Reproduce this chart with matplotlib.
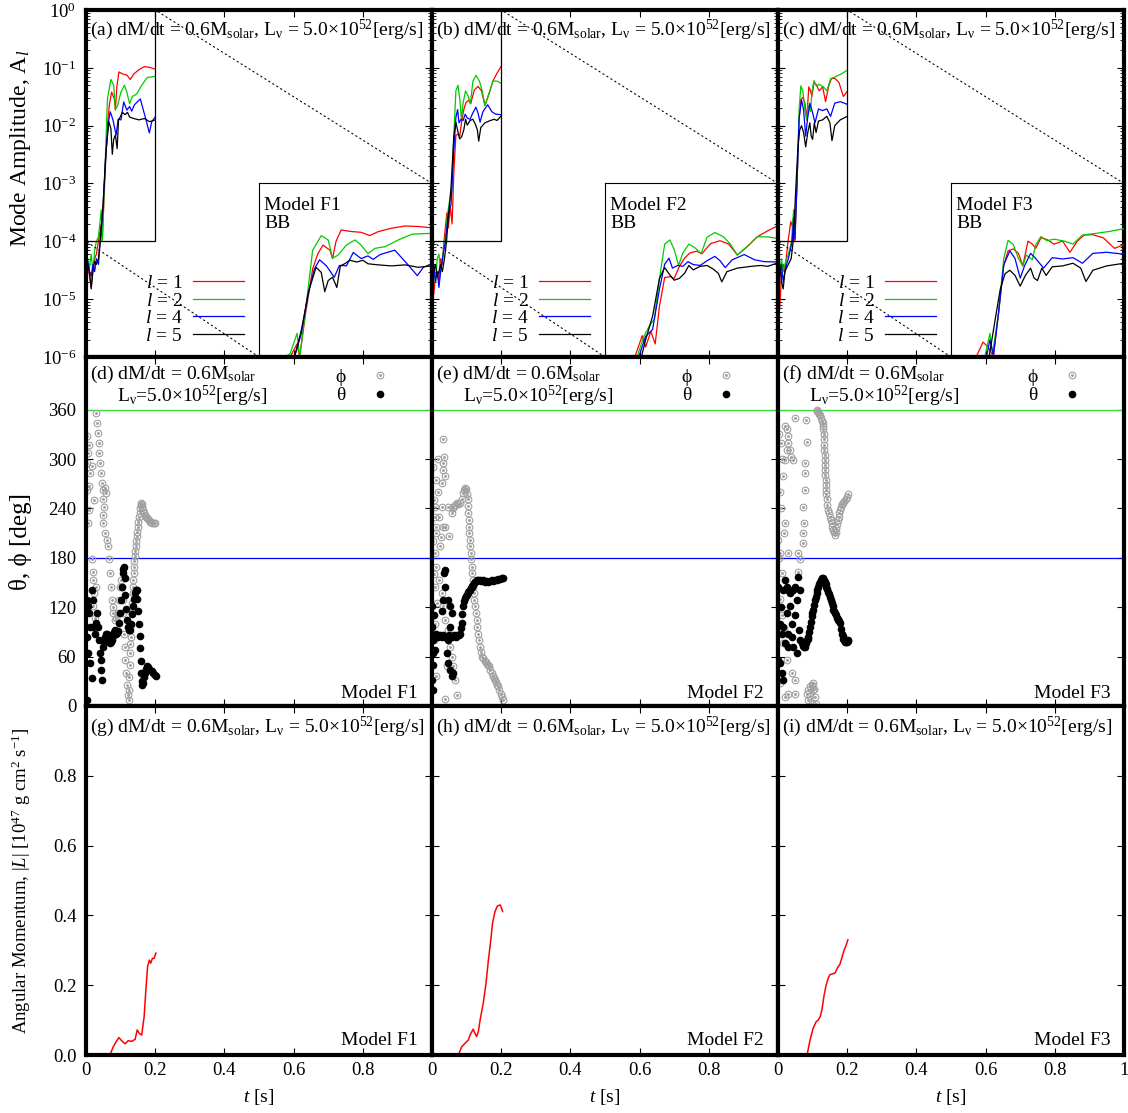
import matplotlib
matplotlib.use("Agg")
import matplotlib.pyplot as plt

# ---- mode amplitudes A_l (top row) ----
F1_t_l1 = [0, .005, .01, .015, .02, .025, .03, .036, .044, .047, .054, .062, .068, .074, .082, .085, .089, .095, .107, .118, .128, .138, .153, .169, .184, .2]
F1_l1 = [3e-5, 4e-5, 2.5e-5, 1.6e-5, 3.5e-5, 5e-5, 6e-5, 1e-4, 2e-4, 1e-4, 1.05e-3, 1.07e-2, 2.4e-2, 3.8e-2, 2.9e-2, 1.86e-2, 4.6e-2, 8.5e-2, 7.8e-2, 7.5e-2, 6.3e-2, 7.8e-2, 9.3e-2, 1.05e-1, 1.02e-1, 9.5e-2]
F1_t_l2 = [0, .005, .01, .015, .02, .025, .03, .036, .044, .047, .054, .062, .072, .080, .085, .091, .101, .111, .118, .126, .134, .146, .161, .177, .2]
F1_l2 = [4e-5, 5e-5, 3.5e-5, 6e-5, 3e-5, 7e-5, 1e-4, 1.2e-4, 3.5e-4, 1e-4, 1.26e-3, 2.9e-2, 6.3e-2, 5e-2, 1.9e-2, 2.2e-2, 3.8e-2, 5e-2, 3.8e-2, 2.4e-2, 3.2e-2, 3.5e-2, 5e-2, 6.8e-2, 7.1e-2]
F1_t_l4 = [0, .005, .01, .015, .02, .025, .03, .036, .041, .049, .056, .064, .070, .078, .087, .093, .101, .109, .118, .126, .132, .140, .157, .173, .183, .19, .2]
F1_l4 = [3.5e-5, 4.5e-5, 3e-5, 2.5e-5, 4e-5, 3e-5, 5e-5, 4e-5, 1e-4, 3.5e-4, 2.5e-3, 1.07e-2, 1.74e-2, 1.26e-2, 6.9e-3, 1.29e-2, 1.26e-2, 2.57e-2, 1.86e-2, 2.14e-2, 1.78e-2, 2.3e-2, 2.9e-2, 1.29e-2, 7.5e-3, 1.17e-2, 1.41e-2]
F1_t_l5 = [0, .005, .01, .015, .02, .025, .03, .036, .041, .049, .058, .066, .072, .076, .080, .085, .090, .094, .099, .105, .113, .120, .126, .138, .153, .169, .184, .2]
F1_l5 = [2.5e-5, 4e-5, 3e-5, 1.5e-5, 3e-5, 4.5e-5, 4e-5, 5e-5, 1e-4, 4.2e-4, 3.6e-3, 1.17e-2, 8.9e-3, 3.2e-3, 5.8e-3, 6.9e-3, 4e-3, 1.26e-2, 1.41e-2, 1.7e-2, 1.55e-2, 1.7e-2, 1.41e-2, 1.33e-2, 1.26e-2, 1.33e-2, 1.17e-2, 1.26e-2]

F2_t_l1 = [0, .005, .01, .015, .02, .025, .03, .0345, .043, .047, .053, .058, .063, .069, .075, .080, .086, .092, .098, .106, .112, .122, .133, .143, .153, .165, .176, .188, .2]
F2_l1 = [3e-5, 1.2e-5, 2.5e-5, 3e-5, 2e-5, 5e-5, 4e-5, 1e-4, 3.1e-4, 1.7e-4, 3.9e-4, 2e-4, 1.5e-3, 6.8e-3, 7.1e-3, 6.5e-3, 1.23e-2, 1.9e-2, 2.5e-2, 2.75e-2, 2.4e-2, 4.1e-2, 4.8e-2, 4e-2, 2.24e-2, 3.6e-2, 5.9e-2, 8.1e-2, 1.07e-1]
F2_t_l2 = [0, .005, .01, .015, .02, .025, .03, .037, .045, .051, .057, .063, .069, .075, .080, .085, .090, .097, .104, .111, .118, .127, .137, .145, .153, .165, .176, .188, .2]
F2_l2 = [4e-5, 3e-5, 2e-5, 5e-5, 6e-5, 3e-5, 5e-5, 1e-4, 3e-4, 5.1e-4, 7.4e-4, 6.5e-3, 4e-2, 5e-2, 3e-2, 1.29e-2, 2.5e-2, 4e-2, 3.3e-2, 2.4e-2, 5.8e-2, 7.4e-2, 5.9e-2, 4e-2, 2.24e-2, 3.6e-2, 5.9e-2, 5.9e-2, 5.4e-2]
F2_t_l4 = [0, .005, .01, .015, .02, .025, .03, .039, .047, .055, .063, .069, .074, .078, .084, .090, .096, .102, .110, .118, .127, .133, .139, .147, .161, .173, .184, .2]
F2_l4 = [3e-5, 4e-5, 2e-5, 3e-5, 1.6e-5, 3e-5, 5e-5, 1e-4, 3e-4, 4.3e-4, 3.7e-3, 1.38e-2, 1.9e-2, 1.12e-2, 1.29e-2, 1.23e-2, 1.58e-2, 1.35e-2, 1.29e-2, 1.66e-2, 2.09e-2, 1.66e-2, 1.15e-2, 1.74e-2, 2.3e-2, 1.74e-2, 1.58e-2, 1.55e-2]
F2_t_l5 = [0, .005, .01, .015, .02, .025, .03, .036, .042, .047, .055, .063, .069, .075, .080, .086, .092, .097, .102, .110, .118, .125, .131, .135, .141, .153, .169, .180, .188, .2]
F2_l5 = [4e-5, 3e-5, 4e-5, 2.5e-5, 3e-5, 4e-5, 3e-5, 5e-5, 1e-4, 2.5e-4, 8.7e-4, 6.5e-3, 1.15e-2, 7.8e-3, 5.9e-3, 6.5e-3, 8.5e-3, 1.29e-2, 1.02e-2, 1.23e-2, 1.29e-2, 1.07e-2, 8.5e-3, 5.4e-3, 9.3e-3, 1.12e-2, 1.23e-2, 1.29e-2, 1.23e-2, 1.48e-2]

F3_t_l1 = [0, .005, .01, .015, .02, .025, .029, .037, .043, .049, .055, .061, .066, .072, .078, .083, .089, .094, .098, .104, .111, .119, .129, .1375, .146, .154, .164, .176, .189, .2]
F3_l1 = [3e-5, 7e-6, 2.5e-5, 4e-5, 3e-5, 6e-5, 1e-4, 2.2e-4, 1.7e-4, 1e-4, 1.05e-3, 1.32e-2, 2.8e-2, 3.1e-2, 2.45e-2, 1.26e-2, 4.7e-2, 4e-2, 3.2e-2, 5.6e-2, 5.1e-2, 4e-2, 4.7e-2, 2.6e-2, 4.7e-2, 6.5e-2, 6.6e-2, 5.6e-2, 3.2e-2, 3.9e-2]
F3_t_l2 = [0, .005, .01, .015, .02, .025, .03, .039, .045, .048, .055, .061, .066, .072, .078, .083, .087, .094, .098, .104, .111, .119, .131, .141, .152, .168, .184, .2]
F3_l2 = [4e-5, 3e-5, 5e-5, 3e-5, 4e-5, 5e-5, 6e-5, 1e-4, 3.5e-4, 1.2e-4, 1.05e-3, 1.86e-2, 4.9e-2, 3.9e-2, 1.86e-2, 1.26e-2, 2.24e-2, 1.74e-2, 3.9e-2, 6e-2, 4.8e-2, 5.2e-2, 4.7e-2, 4e-2, 6.5e-2, 7.1e-2, 7.9e-2, 9.1e-2]
F3_t_l4 = [0, .005, .01, .015, .02, .025, .03, .041, .045, .049, .055, .061, .068, .074, .080, .085, .092, .098, .107, .117, .129, .141, .152, .164, .180, .2]
F3_l4 = [3e-5, 2.5e-5, 4e-5, 2e-5, 3e-5, 4e-5, 5e-5, 1e-4, 2.5e-4, 1.1e-4, 1.05e-3, 1.32e-2, 2.8e-2, 1.86e-2, 6.6e-3, 1.26e-2, 2.45e-2, 1.86e-2, 1.12e-2, 1.95e-2, 1.82e-2, 1.95e-2, 1.45e-2, 2.45e-2, 2.6e-2, 2.34e-2]
F3_t_l5 = [0, .005, .01, .015, .02, .025, .03, .038, .044, .051, .057, .0625, .068, .074, .080, .086, .092, .096, .100, .105, .110, .117, .129, .141, .150, .156, .164, .180, .2]
F3_l5 = [2.5e-5, 4e-5, 2e-5, 1.5e-5, 3e-5, 3.5e-5, 4e-5, 5e-5, 1e-4, 7.2e-4, 3.7e-3, 8.3e-3, 1e-2, 7.6e-3, 4.3e-3, 7.6e-3, 1.12e-2, 6.6e-3, 5.8e-3, 1.12e-2, 7.6e-3, 1.2e-2, 1.26e-2, 1.45e-2, 1.12e-2, 5.5e-3, 1e-2, 1.26e-2, 1.45e-2]

# ---- spiral axis direction (middle row), (t [s], angle [deg]) ----
F1_phi = [(0.002, 295), (0.004, 328), (0.007, 307), (0.010, 317), (0.012, 283), (0.002, 263), (0.010, 238), (0.007, 222),
          (0.016, 178), (0.019, 163), (0.021, 153), (0.023, 137), (0.021, 121), (0.026, 107), (0.029, 145), (0.010, 267),
          (0.016, 291), (0.023, 250), (0.029, 356), (0.033, 344), (0.036, 332), (0.038, 319), (0.039, 307), (0.040, 295),
          (0.042, 283), (0.045, 271), (0.050, 263), (0.055, 265), (0.058, 259), (0.048, 251), (0.052, 242), (0.050, 232),
          (0.048, 222), (0.055, 210), (0.060, 202), (0.064, 194), (0.067, 178), (0.069, 161), (0.071, 145), (0.074, 129),
          (0.077, 120), (0.079, 113), (0.084, 105), (0.088, 107), (0.093, 113), (0.096, 129), (0.098, 145), (0.100, 153),
          (0.103, 145), (0.106, 129), (0.108, 113), (0.110, 88), (0.113, 72), (0.114, 56), (0.117, 40), (0.119, 26),
          (0.121, 13), (0.123, 7), (0.124, 20), (0.125, 35), (0.126, 50), (0.127, 64), (0.128, 75), (0.129, 84),
          (0.130, 98), (0.132, 113), (0.133, 125), (0.135, 137), (0.136, 145), (0.137, 153), (0.138, 161), (0.139, 169),
          (0.140, 176), (0.141, 182), (0.143, 188), (0.144, 194), (0.145, 200), (0.146, 206), (0.148, 212), (0.149, 218),
          (0.151, 224), (0.153, 230), (0.155, 235), (0.156, 240), (0.158, 244), (0.159, 247), (0.161, 245), (0.163, 242),
          (0.165, 238), (0.167, 234), (0.170, 232), (0.172, 230), (0.175, 228), (0.178, 227), (0.181, 226), (0.185, 224),
          (0.188, 223), (0.192, 222), (0.196, 222), (0.200, 222)]
F1_theta = [(0.002, 7), (0.004, 129), (0.007, 121), (0.010, 113), (0.012, 96), (0.004, 84), (0.016, 141), (0.019, 129),
            (0.021, 96), (0.026, 88), (0.012, 52), (0.016, 34), (0.007, 64), (0.029, 101), (0.033, 113), (0.036, 96),
            (0.038, 80), (0.040, 64), (0.042, 44), (0.045, 32), (0.042, 56), (0.050, 72), (0.052, 78), (0.055, 84),
            (0.058, 87), (0.060, 88), (0.062, 86), (0.064, 82), (0.067, 78), (0.069, 76), (0.072, 78), (0.074, 80),
            (0.077, 85), (0.079, 88), (0.082, 90), (0.084, 92), (0.086, 90), (0.088, 88), (0.091, 89), (0.093, 91),
            (0.096, 101), (0.098, 113), (0.100, 129), (0.103, 145), (0.106, 161), (0.108, 167), (0.110, 169), (0.112, 155),
            (0.114, 135), (0.116, 118), (0.118, 105), (0.121, 96), (0.124, 92), (0.127, 92), (0.130, 100), (0.133, 112),
            (0.136, 122), (0.139, 130), (0.142, 137), (0.144, 141), (0.146, 141), (0.148, 130), (0.151, 116), (0.153, 100),
            (0.155, 85), (0.157, 70), (0.158, 55), (0.160, 40), (0.161, 30), (0.163, 25), (0.165, 28), (0.167, 35),
            (0.170, 40), (0.173, 45), (0.175, 48), (0.180, 47), (0.185, 44), (0.190, 42), (0.194, 40), (0.198, 38),
            (0.202, 36)]

F2_phi = [(0.033, 324), (0.035, 303), (0.033, 295), (0.031, 287), (0.038, 279), (0.028, 271), (0.012, 275), (0.009, 242),
          (0.009, 230), (0.013, 218), (0.012, 210), (0.009, 186), (0.028, 242), (0.031, 218), (0.038, 218), (0.047, 242),
          (0.050, 206), (0.057, 234), (0.023, 194), (0.013, 169), (0.021, 153), (0.028, 137), (0.033, 121), (0.038, 105),
          (0.047, 92), (0.052, 72), (0.057, 60), (0.062, 48), (0.067, 32), (0.038, 9), (0.071, 13), (0.009, 145),
          (0.013, 36), (0.042, 48), (0.003, 290), (0.005, 250), (0.004, 200), (0.006, 160), (0.003, 110), (0.005, 80),
          (0.008, 100), (0.016, 300), (0.018, 260), (0.020, 230), (0.025, 205), (0.015, 125),
          (0.060, 240), (0.062, 242), (0.066, 244), (0.071, 247), (0.076, 246), (0.081, 247), (0.086, 252), (0.090, 259),
          (0.093, 263), (0.095, 265), (0.098, 264), (0.100, 258), (0.103, 251), (0.104, 243), (0.105, 234), (0.106, 226),
          (0.107, 218), (0.108, 210), (0.110, 202), (0.111, 194), (0.112, 186), (0.113, 178), (0.115, 169), (0.116, 161),
          (0.118, 153), (0.119, 145), (0.121, 137), (0.122, 129), (0.124, 121), (0.126, 113), (0.129, 105), (0.131, 96),
          (0.134, 88), (0.136, 80), (0.139, 72), (0.142, 66), (0.145, 60), (0.148, 58), (0.152, 55), (0.156, 53),
          (0.160, 51), (0.163, 50), (0.166, 48), (0.169, 44), (0.172, 40), (0.176, 37), (0.179, 34), (0.182, 32),
          (0.186, 29), (0.189, 26), (0.192, 24), (0.195, 20), (0.198, 15), (0.201, 11), (0.204, 7)]
F2_theta = [(0.000, 121), (0.000, 96), (0.002, 80), (0.002, 64), (0.000, 32), (0.002, 20), (0.009, 68), (0.006, 110),
            (0.004, 50), (0.033, 129), (0.035, 161), (0.038, 145), (0.038, 165), (0.047, 129), (0.052, 121), (0.057, 113),
            (0.052, 96), (0.047, 80), (0.042, 64), (0.047, 52), (0.052, 44), (0.057, 36), (0.062, 40), (0.028, 116),
            (0.013, 88), (0.018, 84), (0.023, 86), (0.028, 84), (0.033, 86), (0.038, 84), (0.043, 84), (0.048, 86),
            (0.053, 84), (0.058, 84), (0.063, 86), (0.068, 84), (0.073, 86), (0.078, 86), (0.081, 88), (0.083, 95),
            (0.086, 101), (0.088, 112), (0.091, 121), (0.093, 127), (0.095, 131), (0.098, 134), (0.100, 135), (0.103, 137),
            (0.105, 138), (0.108, 140), (0.110, 141), (0.113, 143), (0.115, 144), (0.117, 146), (0.119, 147), (0.122, 149),
            (0.124, 151), (0.127, 152), (0.130, 153), (0.134, 153), (0.139, 153), (0.143, 152), (0.148, 153), (0.152, 151),
            (0.157, 152), (0.162, 151), (0.167, 152), (0.172, 153), (0.177, 152), (0.182, 153), (0.187, 153), (0.192, 154),
            (0.197, 154), (0.202, 155), (0.206, 155)]

F3_phi = [(0.001, 202), (0.006, 186), (0.011, 161), (0.020, 340), (0.025, 336), (0.028, 328), (0.030, 319), (0.035, 311),
          (0.039, 303), (0.044, 299), (0.020, 299), (0.025, 311), (0.049, 350), (0.082, 348), (0.083, 321), (0.078, 295),
          (0.078, 283), (0.078, 263), (0.073, 242), (0.076, 222), (0.073, 210), (0.073, 198), (0.059, 186), (0.064, 178),
          (0.059, 163), (0.020, 222), (0.030, 186), (0.015, 76), (0.025, 56), (0.040, 40), (0.049, 32), (0.030, 15),
          (0.049, 15), (0.006, 28), (0.020, 11), (0.003, 330), (0.008, 320), (0.012, 300), (0.015, 280), (0.005, 260),
          (0.010, 240), (0.016, 210), (0.003, 180), (0.006, 130), (0.012, 110), (0.018, 95), (0.022, 75),
          (0.083, 15), (0.088, 19), (0.092, 24), (0.097, 26), (0.102, 28), (0.105, 21), (0.107, 11), (0.110, 3),
          (0.088, 7), (0.097, 3), (0.093, 12), (0.100, 20),
          (0.112, 360), (0.114, 359), (0.117, 357), (0.119, 355), (0.121, 354), (0.124, 350), (0.126, 346), (0.129, 344),
          (0.130, 340), (0.131, 336), (0.132, 330), (0.133, 324), (0.134, 317), (0.134, 311), (0.135, 305), (0.136, 299),
          (0.136, 293), (0.136, 287), (0.137, 281), (0.138, 275), (0.138, 269), (0.138, 263), (0.140, 257), (0.141, 251),
          (0.143, 244), (0.145, 238), (0.148, 234), (0.150, 230), (0.152, 226), (0.155, 222), (0.157, 218), (0.160, 214),
          (0.162, 211), (0.165, 208), (0.167, 212), (0.168, 216), (0.170, 221), (0.173, 226), (0.175, 230), (0.176, 234),
          (0.179, 238), (0.182, 242), (0.185, 245), (0.189, 247), (0.192, 249), (0.196, 251), (0.199, 254), (0.203, 257)]
F3_theta = [(0.001, 56), (0.006, 52), (0.011, 40), (0.015, 32), (0.001, 145), (0.015, 141), (0.020, 153), (0.025, 145),
            (0.030, 141), (0.035, 137), (0.044, 141), (0.049, 145), (0.059, 157), (0.064, 141), (0.054, 129), (0.035, 121),
            (0.025, 113), (0.015, 96), (0.011, 88), (0.030, 88), (0.040, 84), (0.044, 72), (0.054, 64), (0.030, 72),
            (0.020, 76), (0.005, 100), (0.010, 120), (0.040, 100), (0.050, 110), (0.060, 92),
            (0.064, 80), (0.068, 76), (0.072, 73), (0.075, 72), (0.078, 72), (0.081, 76), (0.083, 80), (0.086, 82),
            (0.088, 84), (0.090, 90), (0.092, 96), (0.094, 102), (0.097, 109), (0.099, 113), (0.102, 117), (0.104, 123),
            (0.107, 129), (0.109, 133), (0.112, 137), (0.114, 141), (0.116, 145), (0.118, 148), (0.121, 151), (0.124, 153),
            (0.127, 155), (0.131, 155), (0.134, 153), (0.136, 151), (0.138, 148), (0.140, 145), (0.143, 142), (0.145, 139),
            (0.148, 136), (0.150, 133), (0.153, 129), (0.155, 125), (0.158, 121), (0.160, 117), (0.163, 115), (0.165, 113),
            (0.168, 110), (0.170, 107), (0.172, 106), (0.174, 105), (0.177, 103), (0.179, 101), (0.182, 94), (0.184, 88),
            (0.187, 85), (0.189, 82), (0.192, 80), (0.194, 78), (0.196, 78), (0.198, 78), (0.201, 79), (0.203, 80)]

# ---- angular momentum |L| [1e47 g cm^2 s^-1] (bottom row) ----
F1_L_t = [0.069, 0.079, 0.089, 0.095, 0.103, 0.113, 0.122, 0.132, 0.142, 0.148, 0.154, 0.161, 0.168, 0.173, 0.178, 0.183, 0.187, 0.192, 0.197, 0.202]
F1_L = [0.0, 0.024, 0.041, 0.050, 0.041, 0.032, 0.041, 0.039, 0.045, 0.072, 0.062, 0.057, 0.110, 0.186, 0.253, 0.272, 0.263, 0.277, 0.277, 0.292]
F2_L_t = [0.076, 0.086, 0.095, 0.105, 0.110, 0.119, 0.124, 0.129, 0.134, 0.139, 0.148, 0.156, 0.163, 0.170, 0.175, 0.182, 0.189, 0.197, 0.201, 0.204]
F2_L = [0.0, 0.024, 0.033, 0.043, 0.057, 0.074, 0.062, 0.053, 0.067, 0.100, 0.148, 0.205, 0.272, 0.330, 0.378, 0.411, 0.427, 0.430, 0.421, 0.411]
F3_L_t = [0.084, 0.092, 0.101, 0.110, 0.116, 0.122, 0.127, 0.133, 0.139, 0.145, 0.150, 0.156, 0.165, 0.172, 0.179, 0.185, 0.191, 0.197, 0.202]
F3_L = [0.0, 0.04, 0.075, 0.095, 0.100, 0.110, 0.130, 0.170, 0.200, 0.220, 0.230, 0.232, 0.235, 0.250, 0.260, 0.280, 0.300, 0.315, 0.330]

models = ["F1", "F2", "F3"]
letters = ["abc", "def", "ghi"]
amp_series = [
    [(F1_t_l1, F1_l1), (F1_t_l2, F1_l2), (F1_t_l4, F1_l4), (F1_t_l5, F1_l5)],
    [(F2_t_l1, F2_l1), (F2_t_l2, F2_l2), (F2_t_l4, F2_l4), (F2_t_l5, F2_l5)],
    [(F3_t_l1, F3_l1), (F3_t_l2, F3_l2), (F3_t_l4, F3_l4), (F3_t_l5, F3_l5)],
]
angle_series = [(F1_phi, F1_theta), (F2_phi, F2_theta), (F3_phi, F3_theta)]
L_series = [(F1_L_t, F1_L), (F2_L_t, F2_L), (F3_L_t, F3_L)]
l_labels = ["1", "2", "4", "5"]
l_colors = ["#ff0000", "#00cc00", "#0000ff", "#000000"]

plt.rcParams['font.family'] = 'serif'
plt.rcParams['font.serif'] = ['Liberation Serif', 'DejaVu Serif']
plt.rcParams['mathtext.fontset'] = 'custom'
plt.rcParams['mathtext.rm'] = 'Liberation Serif'
plt.rcParams['mathtext.it'] = 'Liberation Serif:italic'
plt.rcParams['mathtext.default'] = 'regular'

W, H = 1128, 1113
FS = 13.5    # tick labels
TS = 14      # annotations
fig = plt.figure(figsize=(W / 100, H / 100), dpi=100)


def rect(left, top, w, h):
    return [left / W, 1 - (top + h) / H, w / W, h / H]


def style(ax):
    for s in ax.spines.values():
        s.set_linewidth(3)
    ax.tick_params(which='both', direction='in', top=True, right=True, labelsize=FS)
    ax.tick_params(which='major', length=5, width=0.8)
    ax.tick_params(which='minor', length=3, width=0.6)


lefts = [86, 432, 778]
head = r"dM/dt = 0.6M$_{solar}$, L$_{ν}$ = 5.0×10$^{52}$[erg/s]"

# top row: mode amplitudes
for i in range(3):
    ax = fig.add_axes(rect(lefts[i], 10, 346, 347))
    style(ax)
    ax.set_yscale('log')
    ax.set_xlim(0, 1)
    ax.set_ylim(1e-6, 1)
    ax.set_xticks([0, 0.2, 0.4, 0.6, 0.8, 1.0])
    ax.tick_params(axis='x', labelbottom=False)
    ax.tick_params(axis='y', pad=7, labelleft=(i == 0))
    handles = []
    for (t, a), c in zip(amp_series[i], l_colors):
        ln, = ax.plot(t, a, color=c, lw=0.9)
        handles.append(ln)
    ax.legend(handles, [r"$\mathit{l}$ = " + s for s in l_labels], loc='upper left',
              bbox_to_anchor=(0.17, 0.238), frameon=False, markerfirst=False,
              handlelength=2.6, handletextpad=0.55, labelspacing=0.0,
              fontsize=TS, borderpad=0, borderaxespad=0)
    ax.text(0.012, 0.942, "(%s) " % letters[0][i] + head, transform=ax.transAxes,
            ha='left', va='center', fontsize=TS)

    axins = ax.inset_axes([0.5, 0, 0.5, 0.5])
    for (t, a), c in zip(amp_series[i], l_colors):
        axins.plot(t, a, color=c, lw=0.9)
    axins.set_yscale('log')
    axins.set_xlim(0, 0.2)
    axins.set_ylim(1e-4, 1)
    axins.tick_params(which='both', left=False, bottom=False, labelleft=False, labelbottom=False)
    axins.patch.set_visible(False)
    for s in axins.spines.values():
        s.set_linewidth(0.8)
    axins.text(0.03, 0.925, "Model %s\nBB" % models[i], transform=axins.transAxes,
               ha='left', va='top', fontsize=TS, linespacing=1.1)
    ind = ax.indicate_inset_zoom(axins, edgecolor='black', alpha=1, linewidth=0.9)
    for k, cn in enumerate(ind.connectors):
        cn.set_visible(k in (0, 3))
        cn.set_linestyle((0, (1.2, 3)))
        cn.set_linewidth(0.8)

# middle row: spiral axis angles
for i in range(3):
    ax = fig.add_axes(rect(lefts[i], 357, 346, 349))
    style(ax)
    ax.set_xlim(0, 1)
    ax.set_ylim(0, 424)
    ax.set_xticks([0, 0.2, 0.4, 0.6, 0.8, 1.0])
    ax.set_yticks([0, 60, 120, 180, 240, 300, 360])
    ax.tick_params(axis='x', labelbottom=False)
    ax.tick_params(axis='y', pad=7, labelleft=(i == 0))
    ax.axhline(360, color='#33dd33', lw=0.9)
    ax.axhline(180, color='#0000ff', lw=0.9)
    phi, theta = angle_series[i]
    ring, = ax.plot([p[0] for p in phi], [p[1] for p in phi], ls='none', marker='o',
                    mfc='none', mec='#a0a0a0', ms=4.8, mew=0.8)
    dot, = ax.plot([p[0] for p in phi], [p[1] for p in phi], ls='none', marker='o',
                   color='#a0a0a0', ms=1.1)
    th, = ax.plot([p[0] for p in theta], [p[1] for p in theta], ls='none', marker='o',
                  color='black', ms=4.5)
    ax.legend([(ring, dot), th], ["ϕ", "θ"], loc='upper left', bbox_to_anchor=(0.72, 0.968),
              frameon=False, markerfirst=False, handlelength=1.0, handletextpad=1.3,
              labelspacing=0.05, fontsize=TS, borderpad=0, borderaxespad=0)
    ax.text(0.012, 0.95, "(%s) dM/dt = 0.6M$_{solar}$" % letters[1][i], transform=ax.transAxes,
            ha='left', va='center', fontsize=TS)
    ax.text(0.09, 0.888, r"L$_{ν}$=5.0×10$^{52}$[erg/s]", transform=ax.transAxes,
            ha='left', va='center', fontsize=TS)
    ax.text(0.96, 0.024, "Model %s" % models[i], transform=ax.transAxes,
            ha='right', va='baseline', fontsize=TS)

# bottom row: angular momentum
for i in range(3):
    ax = fig.add_axes(rect(lefts[i], 706, 346, 349))
    style(ax)
    ax.set_xlim(0, 1)
    ax.set_ylim(0, 1)
    t, L = L_series[i]
    ax.plot(t, L, color='#ff0000', lw=1.1)
    ax.set_yticks([0, 0.2, 0.4, 0.6, 0.8])
    ax.set_yticklabels(["0.0", "0.2", "0.4", "0.6", "0.8"])
    ax.set_xticks([0, 0.2, 0.4, 0.6, 0.8, 1.0])
    ax.set_xticklabels(["0", "0.2", "0.4", "0.6", "0.8", "1" if i == 2 else ""])
    ax.tick_params(axis='y', pad=7, labelleft=(i == 0))
    ax.tick_params(axis='x', pad=5)
    ax.text(0.012, 0.94, "(%s) " % letters[2][i] + head, transform=ax.transAxes,
            ha='left', va='center', fontsize=TS)
    ax.text(0.96, 0.029, "Model %s" % models[i], transform=ax.transAxes,
            ha='right', va='baseline', fontsize=TS)
    fig.text((lefts[i] + 173) / W, 1 - 1097 / H, r"$\mathit{t}$ [s]", ha='center', va='center', fontsize=TS)

fig.text(21 / W, 1 - 148 / H, r"Mode Amplitude, A$_{\mathit{l}}$", rotation=90,
         ha='center', va='center', fontsize=17)
fig.text(21 / W, 1 - 542 / H, "θ, ϕ [deg]", rotation=90, ha='center', va='center', fontsize=18)
fig.text(21 / W, 1 - 881 / H, r"Angular Momentum, $|\mathit{L}|$ [10$^{47}$ g cm$^{2}$ s$^{-1}$]",
         rotation=90, ha='center', va='center', fontsize=13.5)

fig.savefig("out.png", dpi=100)
